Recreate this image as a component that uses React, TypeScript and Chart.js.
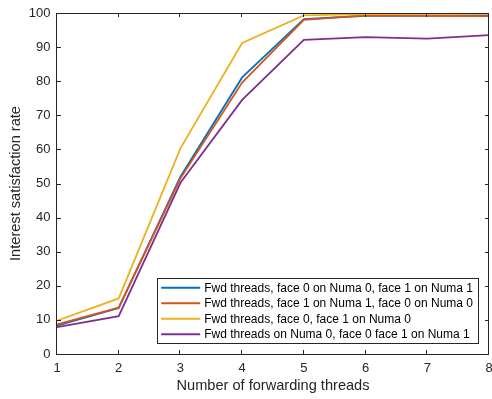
import React, { useEffect, useRef } from "react";
import { Chart, registerables } from "chart.js";

Chart.register(...registerables);

const threads = [1, 2, 3, 4, 5, 6, 7, 8];
const seriesLabels = [
  "Fwd threads, face 0 on Numa 0, face 1 on Numa 1",
  "Fwd threads, face 1 on Numa 1, face 0 on Numa 0",
  "Fwd threads, face 0, face 1 on Numa 0",
  "Fwd threads on Numa 0, face 0 face 1 on Numa 1",
];
const face0Numa0 = [8.3, 13.5, 52.0, 81.1, 98.2, 99.2, 99.2, 99.3];
const face1Numa1 = [8.7, 13.6, 51.5, 79.6, 98.0, 99.3, 99.2, 99.1];
const bothNuma0 = [9.8, 16.3, 60.3, 91.2, 99.3, 99.7, 99.8, 99.8];
const threadsNuma0 = [7.9, 11.1, 50.2, 74.5, 92.1, 92.9, 92.5, 93.5];
const seriesValues = [face0Numa0, face1Numa1, bothNuma0, threadsNuma0];
const colors = ["#0072BD", "#D95319", "#EDB120", "#7E2F8E"];
const xTicks = threads;
const yTicks = [0, 10, 20, 30, 40, 50, 60, 70, 80, 90, 100];

const FONT = "'Liberation Sans', Arial, Helvetica, sans-serif";
const AXIS = "#262626";
const LINE_W = 1.8;

const framePlugin = {
  id: "matlabFrame",
  afterDraw(chart: any) {
    const { ctx, chartArea: a, scales } = chart;
    ctx.save();
    ctx.strokeStyle = AXIS;
    ctx.lineWidth = 1;
    ctx.strokeRect(a.left - 0.5, a.top + 0.5, a.right - a.left, a.bottom - a.top);
    const tl = 4;
    ctx.beginPath();
    xTicks.forEach((v) => {
      const x = Math.round(scales.x.getPixelForValue(v)) - 0.5;
      ctx.moveTo(x, a.bottom);
      ctx.lineTo(x, a.bottom - tl);
      ctx.moveTo(x, a.top);
      ctx.lineTo(x, a.top + tl);
    });
    yTicks.forEach((v) => {
      const y = Math.round(scales.y.getPixelForValue(v)) + 0.5;
      ctx.moveTo(a.left, y);
      ctx.lineTo(a.left + tl, y);
      ctx.moveTo(a.right, y);
      ctx.lineTo(a.right - tl, y);
    });
    ctx.stroke();

    // legend
    ctx.font = `12px ${FONT}`;
    const maxW = Math.max(...seriesLabels.map((s) => ctx.measureText(s).width));
    const right = a.right - 11;
    const bottom = a.bottom - 11;
    const h = 64.6;
    const w = 47 + maxW + 5;
    const left = right - w;
    const top = bottom - h;
    ctx.fillStyle = "#ffffff";
    ctx.fillRect(left, top, w, h);
    ctx.strokeStyle = AXIS;
    ctx.lineWidth = 1;
    ctx.strokeRect(Math.round(left) + 0.5, Math.round(top) + 0.5, Math.round(w), Math.round(h));
    seriesLabels.forEach((lab, i) => {
      const cy = top + 9.4 + i * 15.5;
      ctx.strokeStyle = colors[i];
      ctx.lineWidth = 2;
      ctx.beginPath();
      ctx.moveTo(left + 4, cy);
      ctx.lineTo(left + 43, cy);
      ctx.stroke();
      ctx.fillStyle = "#000000";
      ctx.textAlign = "left";
      ctx.textBaseline = "middle";
      ctx.fillText(lab, left + 47, cy + 0.5);
    });
    ctx.restore();
  },
};

export default function App() {
  const ref = useRef<HTMLCanvasElement | null>(null);
  useEffect(() => {
    document.body.style.margin = "0";
    document.body.style.overflow = "hidden";
    const canvas = ref.current!;
    const chart = new Chart(canvas, {
      type: "line",
      data: {
        datasets: seriesValues.map((vals, i) => ({
          label: seriesLabels[i],
          data: threads.map((t, j) => ({ x: t, y: vals[j] })),
          borderColor: colors[i],
          backgroundColor: colors[i],
          borderWidth: LINE_W,
          pointRadius: 0,
          tension: 0,
          fill: false,
          order: seriesValues.length - i,
        })),
      },
      options: {
        responsive: false,
        animation: false,
        events: [],
        layout: { padding: { top: 13, right: 3, left: 0, bottom: 0 } },
        plugins: {
          legend: { display: false },
          tooltip: { enabled: false },
        },
        scales: {
          x: {
            type: "linear",
            min: 1,
            max: 8,
            afterFit: (s: any) => {
              s.height = 45;
              s.paddingLeft = 0;
              s.paddingRight = 0;
            },
            afterBuildTicks: (s: any) => {
              s.ticks = xTicks.map((v) => ({ value: v }));
            },
            grid: { display: false, drawTicks: false },
            border: { display: false },
            ticks: {
              color: AXIS,
              font: { family: FONT, size: 13 },
              padding: 7,
              maxRotation: 0,
            },
            title: {
              display: true,
              text: "Number of forwarding threads",
              color: AXIS,
              font: { family: FONT, size: 14.6 },
              padding: { top: 0, bottom: 4.5 },
            },
          },
          y: {
            type: "linear",
            min: 0,
            max: 100,
            afterFit: (s: any) => {
              s.width = 57;
              s.paddingTop = 0;
              s.paddingBottom = 0;
            },
            afterBuildTicks: (s: any) => {
              s.ticks = yTicks.map((v) => ({ value: v }));
            },
            grid: { display: false, drawTicks: false },
            border: { display: false },
            ticks: {
              color: AXIS,
              font: { family: FONT, size: 13 },
              padding: 6.5,
            },
            title: {
              display: true,
              text: "Interest satisfaction rate",
              color: AXIS,
              font: { family: FONT, size: 14.6 },
              padding: { top: 7, bottom: 0 },
            },
          },
        },
      },
      plugins: [framePlugin],
    } as any);
    return () => chart.destroy();
  }, []);
  return (
    <div style={{ width: 492, height: 399 }}>
      <canvas ref={ref} width={492} height={399} style={{ display: "block" }} />
    </div>
  );
}
